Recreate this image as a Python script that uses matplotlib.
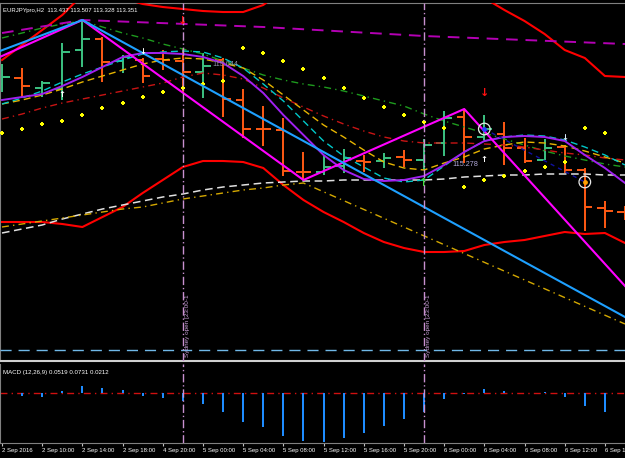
import matplotlib.pyplot as plt
import numpy as np

plt.rcParams['font.family'] = ['Liberation Sans', 'DejaVu Sans']

# EURJPYpro, H2 bars (2 Sep 06:00 ... 6 Sep 18:00)
bars = np.arange(32)
opens = [116.080, 116.110, 116.060, 116.055, 116.250, 116.305, 116.195, 116.200,
         116.205, 116.195, 116.140, 116.200, 116.000, 115.855, 115.850, 115.640,
         115.640, 115.670, 115.695, 115.695, 115.715, 115.700, 115.785, 115.915,
         115.815, 115.830, 115.760, 115.700, 115.765, 115.650, 115.460, 115.440]
highs = [116.180, 116.160, 116.095, 116.285, 116.400, 116.315, 116.225, 116.210,
         116.250, 116.260, 116.235, 116.210, 116.055, 115.970, 115.910, 115.740,
         115.725, 115.755, 115.725, 115.735, 115.750, 115.805, 115.945, 115.955,
         115.925, 115.890, 115.810, 115.805, 115.775, 115.660, 115.495, 115.470]
lows = [116.040, 116.015, 116.015, 116.000, 116.165, 116.090, 116.135, 116.085,
        116.150, 116.035, 116.010, 115.915, 115.810, 115.770, 115.620, 115.600,
        115.625, 115.635, 115.640, 115.660, 115.665, 115.650, 115.720, 115.685,
        115.800, 115.675, 115.685, 115.700, 115.635, 115.345, 115.360, 115.400]
closes = [116.115, 116.070, 116.085, 116.240, 116.305, 116.190, 116.215, 116.120,
          116.200, 116.140, 116.170, 116.005, 115.855, 115.855, 115.645, 115.640,
          115.665, 115.710, 115.690, 115.710, 115.700, 115.775, 115.910, 115.815,
          115.855, 115.760, 115.695, 115.760, 115.650, 115.465, 115.445, 115.420]

# moving averages / bands
hull_ma = [116.000, 116.015, 116.030, 116.070, 116.115, 116.165, 116.215, 116.235,
           116.235, 116.230, 116.215, 116.185, 116.120, 116.035, 115.925, 115.825,
           115.725, 115.650, 115.605, 115.595, 115.600, 115.620, 115.675, 115.740,
           115.795, 115.815, 115.820, 115.815, 115.795, 115.725, 115.660, 115.585]
cyan_ma = [115.980, 116.010, 116.045, 116.090, 116.130, 116.165, 116.200, 116.230,
           116.240, 116.245, 116.240, 116.210, 116.160, 116.080, 115.995, 115.895,
           115.795, 115.720, 115.665, 115.610, 115.590, 115.600, 115.670, 115.740,
           115.795, 115.815, 115.825, 115.820, 115.800, 115.765, 115.725, 115.675]
gold_ma = [115.980, 116.000, 116.025, 116.055, 116.090, 116.120, 116.150, 116.180,
           116.200, 116.210, 116.205, 116.185, 116.160, 116.100, 116.025, 115.950,
           115.875, 115.815, 115.750, 115.690, 115.660, 115.650, 115.685, 115.715,
           115.755, 115.775, 115.790, 115.785, 115.770, 115.745, 115.715, 115.685]
green_ma = [116.310, 116.335, 116.360, 116.380, 116.395, 116.365, 116.335, 116.310,
            116.280, 116.255, 116.230, 116.195, 116.160, 116.125, 116.100, 116.080,
            116.065, 116.045, 116.020, 115.995, 115.970, 115.930, 115.895, 115.865,
            115.835, 115.805, 115.775, 115.745, 115.720, 115.700, 115.680, 115.665]
red_ma = [115.905, 115.930, 115.960, 115.985, 116.005, 116.025, 116.045, 116.065,
          116.085, 116.115, 116.135, 116.125, 116.105, 116.060, 116.010, 115.965,
          115.920, 115.880, 115.845, 115.815, 115.795, 115.785, 115.785, 115.785,
          115.780, 115.775, 115.765, 115.750, 115.735, 115.725, 115.710, 115.700]
white_ma = [115.335, 115.355, 115.375, 115.405, 115.430, 115.455, 115.475, 115.495,
            115.515, 115.530, 115.550, 115.565, 115.575, 115.585, 115.590, 115.595,
            115.595, 115.600, 115.600, 115.600, 115.600, 115.600, 115.605, 115.615,
            115.620, 115.625, 115.625, 115.630, 115.630, 115.630, 115.625, 115.625]
band_upper = [116.200, 116.275, 116.350, 116.425, 116.525, 116.550, 116.510, 116.480,
              116.465, 116.455, 116.445, 116.440, 116.440, 116.475, 116.550, 116.600,
              116.625, 116.650, 116.650, 116.650, 116.625, 116.600, 116.560, 116.540,
              116.510, 116.450, 116.395, 116.330, 116.250, 116.210, 116.120, 116.115]
band_lower = [115.390, 115.390, 115.390, 115.380, 115.365, 115.415, 115.465, 115.535,
              115.600, 115.665, 115.695, 115.695, 115.690, 115.660, 115.575, 115.500,
              115.440, 115.390, 115.335, 115.290, 115.260, 115.240, 115.240, 115.245,
              115.275, 115.290, 115.300, 115.320, 115.340, 115.330, 115.335, 115.285]
sar = [115.835, 115.855, 115.880, 115.895, 115.925, 115.960, 115.985, 116.015,
       116.040, 116.060, 116.080, 116.095, 116.260, 116.235, 116.195, 116.155,
       116.110, 116.060, 116.010, 115.965, 115.925, 115.890, 115.860, 115.565,
       115.600, 115.620, 115.645, 115.665, 115.690, 115.860, 115.835]

# lower dash-dot line (bars 0..15 then trend to the edge)
low_line_x = [0, 1, 2, 3, 4, 5, 6, 7, 8, 9, 10, 11, 12, 13, 14, 15, 31]
low_line_y = [115.365, 115.380, 115.395, 115.410, 115.425, 115.440, 115.455, 115.465,
              115.485, 115.505, 115.520, 115.535, 115.550, 115.560, 115.575, 115.585, 114.880]

# zigzags / trend objects
zz_x = [-1, 4, 15, 23, 31]
zz_y = [116.175, 116.400, 115.600, 115.955, 115.070]
blue_x = [-1, 4, 31]
blue_y = [116.211, 116.400, 114.915]
mdash_x = [0, 4, 13, 21, 31]
mdash_y = [116.335, 116.400, 116.365, 116.320, 116.280]
level_price = 114.750
sydney_bars = [9, 21]

# MACD histogram
macd = [0.000, -0.015, -0.020, 0.010, 0.035, 0.025, 0.015, -0.015, -0.025, -0.040,
        -0.055, -0.095, -0.145, -0.170, -0.215, -0.240, -0.245, -0.225, -0.200,
        -0.165, -0.130, -0.095, -0.030, -0.003, 0.020, 0.010, 0.002, 0.005, -0.020,
        -0.065, -0.095]

time_ticks = list(range(0, 31, 2))
time_labels = ["2 Sep 2016", "2 Sep 10:00", "2 Sep 14:00", "2 Sep 18:00", "4 Sep 20:00",
               "5 Sep 00:00", "5 Sep 04:00", "5 Sep 08:00", "5 Sep 12:00", "5 Sep 16:00",
               "5 Sep 20:00", "6 Sep 00:00", "6 Sep 04:00", "6 Sep 08:00", "6 Sep 12:00",
               "6 Sep 16:00"]

bull = '#3CC382'
bear = '#FF5A14'

fig = plt.figure(figsize=(6.25, 4.58), dpi=100, facecolor='black')
ax = fig.add_axes([0, 97 / 458, 1, 358 / 458])
ax2 = fig.add_axes([0, 15 / 458, 1, 79 / 458])
for a in (ax, ax2):
    a.set_facecolor('black')
    a.set_xlim(-0.1, 31.0)
    for s in a.spines.values():
        s.set_color('#808080')
    a.spines['right'].set_visible(False)
ax.spines['bottom'].set_color('#D0D0D0')
ax.spines['bottom'].set_linewidth(1.5)
ax2.spines['top'].set_visible(False)
ax.set_ylim(114.695, 116.485)
ax.set_xticks([])
ax.set_yticks([])

# bands and averages
ax.plot(bars, band_upper, color='#FF0000', lw=1.5, zorder=3)
ax.plot(bars, band_lower, color='#FF0000', lw=1.5, zorder=3)
ax.plot(bars, white_ma, color='#E0E0E0', lw=1.1, ls=(0, (5, 3)), zorder=3)
ax.plot(low_line_x, low_line_y, color='#D4A800', lw=1, ls=(0, (5, 3, 1, 3)), zorder=3)
ax.plot(bars, green_ma, color='#1E9A1E', lw=1, ls=(0, (5, 3, 1, 3)), zorder=3)
ax.plot(bars, red_ma, color='#C81414', lw=1, ls=(0, (5, 3, 1, 3)), zorder=3)
ax.plot(bars, gold_ma, color='#E6B400', lw=1, ls=(0, (5, 3)), zorder=3)
ax.plot(bars, cyan_ma, color='#00C8C8', lw=1, ls=(0, (5, 3)), zorder=3)
ax.plot(bars, hull_ma, color='#A020F0', lw=1.4, zorder=3)
ax.plot(mdash_x, mdash_y, color='#B400B4', lw=1.4, ls=(0, (6, 4)), zorder=3)
ax.axhline(level_price, color='#70B8E8', lw=1, ls=(0, (8, 5)), zorder=3)

# OHLC bars
for i, o, h, l, c in zip(bars, opens, highs, lows, closes):
    col = bull if c > o else bear
    ax.vlines(i, l, h, color=col, lw=1.4, zorder=2)
    ax.hlines(o, i - 0.38, i, color=col, lw=1.4, zorder=2)
    ax.hlines(c, i, i + 0.38, color=col, lw=1.4, zorder=2)

ax.scatter(bars[:len(sar)], sar, s=5, marker='P', color='#FFFF00', lw=0, zorder=4)

# objects
ax.plot(zz_x, zz_y, color='#FF00FF', lw=1.5, zorder=5)
ax.plot(blue_x, blue_y, color='#1EA0FF', lw=1.5, zorder=5)
ax.plot([24, 29], [115.855, 115.590], color='#1010A0', lw=1, ls=(0, (3, 3)), zorder=4)

for b in sydney_bars:
    for a in (ax, ax2):
        a.axvline(b, color='#C890D0', lw=1, ls=(0, (6, 2, 1, 2)), zorder=6)
    ax.text(b + 0.12, 0.012, "Sydney open [23:00-1", rotation=90, color='#C8A0D8',
            fontsize=4.6, ha='left', va='bottom', transform=ax.get_xaxis_transform(), zorder=6)

# arrows and marks
arrow_kw = dict(ha='center', va='center', family='DejaVu Sans', fontweight='bold', zorder=7)
ax.text(9, 116.395, '\u2193', color='#FF1010', fontsize=8, **arrow_kw)
ax.text(24, 116.035, '\u2193', color='#FF1010', fontsize=8, **arrow_kw)
ax.text(3, 116.025, '\u2191', color='white', fontsize=6, **arrow_kw)
ax.text(7, 116.245, '\u2193', color='white', fontsize=6, **arrow_kw)
ax.text(24, 115.700, '\u2191', color='white', fontsize=6, **arrow_kw)
ax.text(28, 115.810, '\u2193', color='#D8ECFF', fontsize=6, **arrow_kw)
ax.text(21, 115.585, '\u2191', color='#40E040', fontsize=8, **arrow_kw)
ax.scatter([24, 29], [115.855, 115.590], s=70, facecolor='none', edgecolor='#E8E8E8', lw=0.9, zorder=7)
ax.scatter([24], [115.855], s=6, color='#2040FF', zorder=7)
ax.scatter([29], [115.590], s=6, color='#FFA000', zorder=7)

ax.text(10.45, 116.175, "115.044", color='#9090A8', fontsize=5.2, ha='left', va='center', zorder=7)
ax.text(22.4, 115.675, "115.278", color='#B0A8D8', fontsize=5.2, ha='left', va='center', zorder=7)
ax.text(0.005, 0.985, "EURJPYpro,H2  113.437 113.507 113.328 113.351", color='white', fontsize=4.3,
        ha='left', va='top', transform=ax.transAxes, zorder=8)

# MACD panel
ax2.set_ylim(-0.25, 0.145)
ax2.bar(bars[:len(macd)], macd, width=0.1, color='#1E8CFF', zorder=3)
ax2.axhline(0, color='#D01010', lw=1, ls=(0, (5, 3, 1, 3)), zorder=2)
ax2.text(0.005, 0.93, "MACD (12,26,9) 0.0519 0.0731 0.0212", color='white', fontsize=4.4,
         ha='left', va='top', transform=ax2.transAxes)
ax2.set_yticks([])
ax2.set_xticks(time_ticks)
ax2.set_xticklabels(time_labels, ha='left')
ax2.tick_params(axis='x', direction='out', length=2, color='#C0C0C0', labelcolor='white',
                labelsize=4.3, pad=1.5)

fig.savefig('out.png', dpi=100, facecolor='black')
